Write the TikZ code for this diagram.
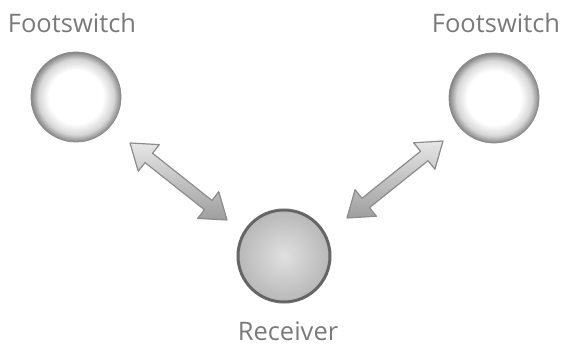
\documentclass[tikz,border=0pt]{standalone}
\usepackage{fontspec}
\setmainfont{Open Sans}
\usetikzlibrary{calc}
\pgfdeclareradialshading{swrim}{\pgfpoint{0bp}{0bp}}{color(0bp)=(white); color(15bp)=(white); color(21bp)=(black!16); color(25bp)=(black!48); color(50bp)=(black!48)}
\pgfdeclareradialshading{rcvfill}{\pgfpoint{0bp}{0bp}}{color(0bp)=(black!12); color(25bp)=(black!28); color(50bp)=(black!28)}
\tikzset{
  footsw/.style={circle, minimum size=90pt, inner sep=0pt, shading=swrim, draw=black!45, line width=0.8pt},
  rcv/.style={circle, minimum size=92pt, inner sep=0pt, shading=rcvfill, draw=black!60, line width=3pt},
  lbl/.style={text=black!52, font=\fontsize{25.5}{30}\selectfont},
  blockarrow/.style={draw=black!45, line width=1.2pt, line join=round, top color=black!10, bottom color=black!38}
}
% double block arrow between two named coordinates
\newcommand\blockarrow[2]{%
  \path[blockarrow] (#1) -- ($(#1)!29.4pt!35.3:(#2)$) -- ($(#1)!24.74pt!14.04:(#2)$)
    -- ($(#2)!24.74pt!-14.04:(#1)$) -- ($(#2)!29.4pt!-35.3:(#1)$) -- (#2)
    -- ($(#2)!29.4pt!35.3:(#1)$) -- ($(#2)!24.74pt!14.04:(#1)$)
    -- ($(#1)!24.74pt!-14.04:(#2)$) -- ($(#1)!29.4pt!-35.3:(#2)$) -- cycle;}
\begin{document}
\begin{tikzpicture}[x=1pt, y=-1pt]
    \useasboundingbox (0,0) rectangle (563,345);
    \node[footsw] (fsl) at (76,97) {};
    \node[footsw] (fsr) at (494,98) {};
    \node[rcv] (rc) at (284,256) {};
    \node[lbl] (fsltxt) at (72,23) {Footswitch};
    \node[lbl] (fsrtxt) at (496,23) {Footswitch};
    \node[lbl] (rctxt) at (288,331) {Receiver};
    \coordinate (la) at (130,143);
    \coordinate (lb) at (227,220);
    \coordinate (ra) at (443,141);
    \coordinate (rb) at (347,218);
    \blockarrow{la}{lb}
    \blockarrow{ra}{rb}
\end{tikzpicture}
\end{document}
